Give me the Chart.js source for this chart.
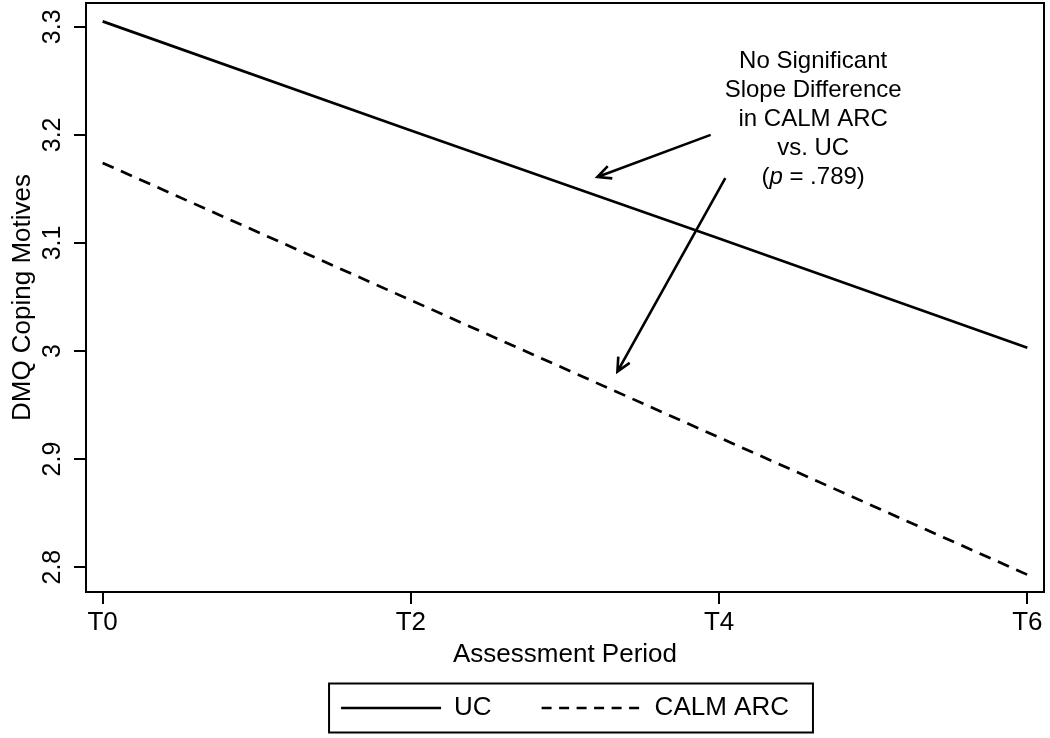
<!DOCTYPE html>
<html>
<head>
<meta charset="utf-8">
<script src="https://cdn.jsdelivr.net/npm/chart.js@4.4.1/dist/chart.umd.min.js"></script>
<style>
  body { margin: 0; background: #fff; }
  #wrap { width: 1050px; height: 738px; }
</style>
</head>
<body>
<div id="wrap"><canvas id="dmqChart"></canvas></div>
<script>
// assessment periods and their tick labels
const periods = [0, 2, 4, 6];
const periodLabels = ['T0', 'T2', 'T4', 'T6'];

// DMQ coping motives, fitted slopes per group
const ucValues = [3.305, 3.204, 3.104, 3.003];
const calmValues = [3.174, 3.047, 2.920, 2.793];

// annotation text
const noteLines = ['No Significant', 'Slope Difference', 'in CALM ARC', 'vs. UC', '(p = .789)'];

const FONT = '"Liberation Sans", Arial, Helvetica, sans-serif';

// where the note and its arrows sit (in data units)
const note = { x: 4.61, y: 3.2676, lineGap: 29 };
const arrows = [
  { from: [3.945, 3.200], to: [3.21, 3.161] },
  { from: [4.04, 3.160], to: [3.34, 2.981] }
];

const toPoints = vals => periods.map((p, i) => ({ x: p, y: vals[i] }));

function drawArrow(ctx, x1, y1, x2, y2) {
  const ang = Math.atan2(y2 - y1, x2 - x1);
  const len = 15, spread = 0.45;
  ctx.beginPath();
  ctx.moveTo(x1, y1);
  ctx.lineTo(x2, y2);
  ctx.moveTo(x2 - len * Math.cos(ang - spread), y2 - len * Math.sin(ang - spread));
  ctx.lineTo(x2, y2);
  ctx.lineTo(x2 - len * Math.cos(ang + spread), y2 - len * Math.sin(ang + spread));
  ctx.stroke();
}

const framePlugin = {
  id: 'frame',
  afterDatasetsDraw(chart) {
    const { ctx, chartArea: a } = chart;
    ctx.save();
    ctx.strokeStyle = '#000';
    ctx.lineWidth = 2;
    ctx.strokeRect(a.left, a.top, a.right - a.left, a.bottom - a.top);
    ctx.restore();
  },
  afterDraw(chart) {
    const { ctx, chartArea: a, scales: { x, y } } = chart;
    ctx.save();
    ctx.fillStyle = '#000';
    ctx.strokeStyle = '#000';

    // y tick labels, turned like the original
    ctx.font = '25px ' + FONT;
    ctx.textAlign = 'center';
    ctx.textBaseline = 'middle';
    y.ticks.forEach(t => {
      ctx.save();
      ctx.translate(a.left - 32.5, y.getPixelForValue(t.value));
      ctx.rotate(-Math.PI / 2);
      ctx.fillText(t.label, 0, 0);
      ctx.restore();
    });

    // note text
    const cx = x.getPixelForValue(note.x);
    const cy = y.getPixelForValue(note.y);
    ctx.font = '24px ' + FONT;
    noteLines.forEach((line, i) => {
      const ly = cy + i * note.lineGap;
      const m = line.match(/^\((p)( = .*)$/);
      if (!m) {
        ctx.textAlign = 'center';
        ctx.fillText(line, cx, ly);
        return;
      }
      // italic p
      const parts = [['(', ''], ['p', 'italic '], [m[2], '']];
      let w = 0;
      parts.forEach(p => { ctx.font = p[1] + '24px ' + FONT; w += ctx.measureText(p[0]).width; });
      let px = cx - w / 2;
      ctx.textAlign = 'left';
      parts.forEach(p => {
        ctx.font = p[1] + '24px ' + FONT;
        ctx.fillText(p[0], px, ly);
        px += ctx.measureText(p[0]).width;
      });
    });

    // arrows
    ctx.lineWidth = 2.6;
    arrows.forEach(ar => {
      drawArrow(ctx,
        x.getPixelForValue(ar.from[0]), y.getPixelForValue(ar.from[1]),
        x.getPixelForValue(ar.to[0]), y.getPixelForValue(ar.to[1]));
    });

    // box round the legend
    const hb = chart.legend.legendHitBoxes;
    if (hb && hb.length) {
      const first = hb[0], last = hb[hb.length - 1];
      const mid = first.top + first.height / 2;
      ctx.lineWidth = 2;
      ctx.strokeRect(first.left - 12, mid - 24.5, last.left + last.width + 24 - (first.left - 12), 49);
    }
    ctx.restore();
  }
};

new Chart(document.getElementById('dmqChart'), {
  type: 'line',
  data: {
    datasets: [{
      label: 'UC',
      data: toPoints(ucValues),
      borderColor: '#000',
      borderWidth: 2.7,
      pointRadius: 0,
      fill: false,
      tension: 0
    }, {
      label: 'CALM ARC',
      data: toPoints(calmValues),
      borderColor: '#000',
      borderWidth: 2.7,
      borderDash: [12, 8],
      pointRadius: 0,
      fill: false,
      tension: 0
    }]
  },
  options: {
    responsive: true,
    maintainAspectRatio: false,
    animation: false,
    layout: { padding: { top: 3, right: 6, bottom: 7, left: 0 } },
    plugins: {
      tooltip: { enabled: false },
      legend: {
        position: 'bottom',
        fullSize: false,
        labels: {
          usePointStyle: true,
          pointStyle: 'line',
          pointStyleWidth: 100,
          padding: 50,
          color: '#000',
          font: { size: 26, family: FONT },
          generateLabels(chart) {
            const items = Chart.defaults.plugins.legend.labels.generateLabels(chart);
            items.forEach(it => {
              const ds = chart.data.datasets[it.datasetIndex];
              it.lineDash = ds.borderDash ? [10, 7.5] : [];
              it.lineWidth = ds.borderWidth;
              it.strokeStyle = ds.borderColor;
            });
            return items;
          }
        }
      }
    },
    scales: {
      x: {
        type: 'linear',
        min: -0.108,
        max: 6.108,
        afterFit: s => { s.height = 53; },
        border: { display: false },
        grid: { drawOnChartArea: false, tickLength: 12, color: '#000', lineWidth: 2 },
        ticks: {
          stepSize: 2,
          includeBounds: false,
          autoSkip: false,
          maxRotation: 0,
          padding: 3,
          color: '#000',
          font: { size: 26, family: FONT },
          callback: v => periodLabels[periods.indexOf(v)] ?? ''
        },
        title: {
          display: true,
          text: 'Assessment Period',
          color: '#000',
          font: { size: 26, family: FONT },
          padding: { top: 0, bottom: -25 }
        }
      },
      y: {
        min: 2.777,
        max: 3.322,
        afterFit: s => { s.width = 86; },
        border: { display: false },
        grid: { drawOnChartArea: false, tickLength: 12, color: '#000', lineWidth: 2 },
        ticks: {
          stepSize: 0.1,
          includeBounds: false,
          display: false,
          callback: v => String(Math.round(v * 10) / 10)
        },
        title: {
          display: true,
          text: 'DMQ Coping Motives',
          color: '#000',
          font: { size: 26, family: FONT },
          padding: { top: 7, bottom: 0 }
        }
      }
    }
  },
  plugins: [framePlugin]
});
</script>
</body>
</html>
